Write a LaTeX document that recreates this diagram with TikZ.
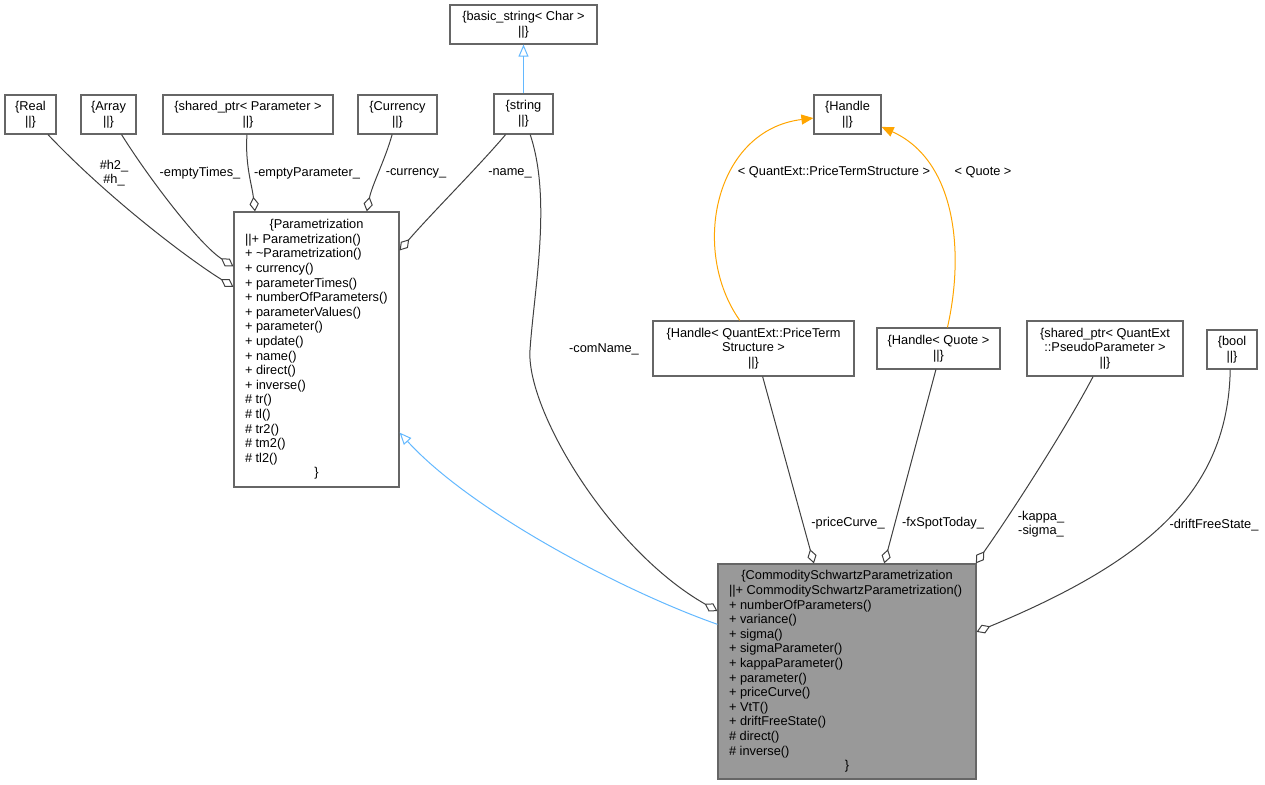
\documentclass[tikz,border=0pt]{standalone}
\usepackage{fontspec}
\setmainfont{Liberation Sans}
\usetikzlibrary{arrows.meta}
\definecolor{boxgray}{HTML}{666666}
\definecolor{edgegray}{HTML}{404040}
\definecolor{inhblue}{HTML}{63B8FF}
\definecolor{tmplorange}{HTML}{FFA500}
\definecolor{mainfill}{HTML}{999999}
\newcommand{\clsbox}[2]{\vbox{\hsize=#1\relax #2}}
\newcommand{\ctl}[1]{\hbox to\hsize{\hss#1\hss}}
\newcommand{\lfl}[1]{\hbox to\hsize{\hskip8.25pt #1\hss}}
\newcommand{\bars}{\textbar\textbar}
\tikzset{
  cls/.style={draw=boxgray, line width=0.9pt, fill=white, inner sep=0pt, rectangle,
    font=\fontsize{9.6}{10.95}\selectfont},
  mainnode/.style={cls, fill=mainfill},
  lbl/.style={inner sep=0pt, align=center, font=\fontsize{9.6}{10.95}\selectfont},
  agg/.style={draw=edgegray, line width=0.75pt,
    -{Diamond[open,length=11pt,width=7pt,line width=0.75pt]}},
  inh/.style={draw=inhblue, line width=0.75pt,
    -{Triangle[open,length=9pt,width=7.5pt,line width=0.75pt]}},
  tmpl/.style={draw=tmplorange, line width=0.75pt,
    -{Triangle[length=9pt,width=7.5pt]}},
}
\begin{document}
\begin{tikzpicture}[x=0.75pt,y=-0.75pt]
\useasboundingbox (0,0) rectangle (1265,785);

% nodes
\node[cls, minimum width=110.25pt, minimum height=29.25pt] (bstr) at (523.5,24.5)
  {\clsbox{110.25pt}{\ctl{\{basic\_string< Char >}\ctl{\bars\}}}};
\node[cls, minimum width=44.25pt, minimum height=30pt] (str) at (523.5,114)
  {\clsbox{44.25pt}{\ctl{\{string}\ctl{\bars\}}}};
\node[cls, minimum width=38.25pt, minimum height=29.25pt] (real) at (30.5,114.5)
  {\clsbox{38.25pt}{\ctl{\{Real}\ctl{\bars\}}}};
\node[cls, minimum width=41.25pt, minimum height=29.25pt] (arr) at (108.5,114.5)
  {\clsbox{41.25pt}{\ctl{\{Array}\ctl{\bars\}}}};
\node[cls, minimum width=127.5pt, minimum height=29.25pt] (spar) at (248,114.5)
  {\clsbox{127.5pt}{\ctl{\{shared\_ptr< Parameter >}\ctl{\bars\}}}};
\node[cls, minimum width=59.25pt, minimum height=29.25pt] (cur) at (397.5,114.5)
  {\clsbox{59.25pt}{\ctl{\{Currency}\ctl{\bars\}}}};
\node[cls, minimum width=50.25pt, minimum height=29.25pt] (hdl) at (847.5,114.5)
  {\clsbox{50.25pt}{\ctl{\{Handle}\ctl{\bars\}}}};
\node[cls, minimum width=123.75pt, minimum height=206.25pt] (param) at (316.5,349.5)
  {\clsbox{123.75pt}{%
    \ctl{\{Parametrization}%
    \lfl{\bars+ Parametrization()}%
    \lfl{+ \textasciitilde Parametrization()}%
    \lfl{+ currency()}%
    \lfl{+ parameterTimes()}%
    \lfl{+ numberOfParameters()}%
    \lfl{+ parameterValues()}%
    \lfl{+ parameter()}%
    \lfl{+ update()}%
    \lfl{+ name()}%
    \lfl{+ direct()}%
    \lfl{+ inverse()}%
    \lfl{\# tr()}%
    \lfl{\# tl()}%
    \lfl{\# tr2()}%
    \lfl{\# tm2()}%
    \lfl{\# tl2()}%
    \ctl{\}}}};
\node[cls, minimum width=150.75pt, minimum height=41.25pt] (hpts) at (753.5,348.5)
  {\clsbox{150.75pt}{\ctl{\{Handle< QuantExt::PriceTerm}\ctl{Structure >}\ctl{\bars\}}}};
\node[cls, minimum width=92.25pt, minimum height=30.75pt] (hq) at (938.5,348.5)
  {\clsbox{92.25pt}{\ctl{\{Handle< Quote >}\ctl{\bars\}}}};
\node[cls, minimum width=117pt, minimum height=41.25pt] (spp) at (1105,348.5)
  {\clsbox{117pt}{\ctl{\{shared\_ptr< QuantExt}\ctl{::PseudoParameter >}\ctl{\bars\}}}};
\node[cls, minimum width=37.5pt, minimum height=29.25pt] (bool) at (1232,349.5)
  {\clsbox{37.5pt}{\ctl{\{bool}\ctl{\bars\}}}};
\node[mainnode, minimum width=193.5pt, minimum height=161.25pt] (comm) at (847,671.5)
  {\clsbox{193.5pt}{%
    \ctl{\{CommoditySchwartzParametrization}%
    \lfl{\bars+ CommoditySchwartzParametrization()}%
    \lfl{+ numberOfParameters()}%
    \lfl{+ variance()}%
    \lfl{+ sigma()}%
    \lfl{+ sigmaParameter()}%
    \lfl{+ kappaParameter()}%
    \lfl{+ parameter()}%
    \lfl{+ priceCurve()}%
    \lfl{+ VtT()}%
    \lfl{+ driftFreeState()}%
    \lfl{\# direct()}%
    \lfl{\# inverse()}%
    \ctl{\}}}};

% inheritance
\draw[inh] (str.north) -- (bstr.south);
\draw[inh] (comm.160.97) .. controls (620,590) and (470,510) .. (param.-45);

% usage edges into Parametrization
\draw[agg] (real.-49.8) .. controls (110,200) and (190,260) .. (param.143.75);
\draw[agg] (arr.-57.3) .. controls (150,180) and (200,245) .. (param.135);
\draw[agg] (spar.-93) .. controls (245,165) and (252,185) .. (param.114.79);
\draw[agg] (cur.-105.75) .. controls (385,160) and (372,185) .. (param.70.2);
\draw[agg] (str.-131.2) .. controls (480,165) and (430,215) .. (param.50.9);

% usage edges into CommoditySchwartzParametrization
\coordinate (cnmid) at (530,350);
\draw[agg] (str.-72) .. controls (552,200) and (534,290) .. (cnmid)
  .. controls (526,410) and (610,550) .. (comm.155.24);
\draw[agg] (hpts.-72.8) -- (comm.107.55);
\draw[agg] (hq.-97) -- (comm.71);
\draw[agg] (spp.-113.6) .. controls (1065,430) and (1010,515) .. (comm.40.47);
\draw[agg] (bool.-95.9) .. controls (1228,490) and (1150,560) .. (comm.17.8);

% template instances
\draw[tmpl] (hpts.116.1) .. controls (690,250) and (715,130) .. (hdl.-174);
\draw[tmpl] (hq.67.5) .. controls (965,250) and (955,160) .. (hdl.-20.46);

% labels
\node[lbl] (lh) at (114,173) {\#h2\_\\\#h\_};
\node[lbl] (let) at (200,173) {-emptyTimes\_};
\node[lbl] (lep) at (307,173) {-emptyParameter\_};
\node[lbl] (lcur) at (416,173) {-currency\_};
\node[lbl] (lname) at (510,173) {-name\_};
\node[lbl] (lcom) at (604,349) {-comName\_};
\node[lbl] (lpts) at (834,172) {< QuantExt::PriceTermStructure >};
\node[lbl] (lq) at (983,172) {< Quote >};
\node[lbl] (lpc) at (848,523) {-priceCurve\_};
\node[lbl] (lfx) at (943,523) {-fxSpotToday\_};
\node[lbl] (lks) at (1041,524) {-kappa\_\\-sigma\_};
\node[lbl] (ldf) at (1214,525) {-driftFreeState\_};
\end{tikzpicture}
\end{document}
